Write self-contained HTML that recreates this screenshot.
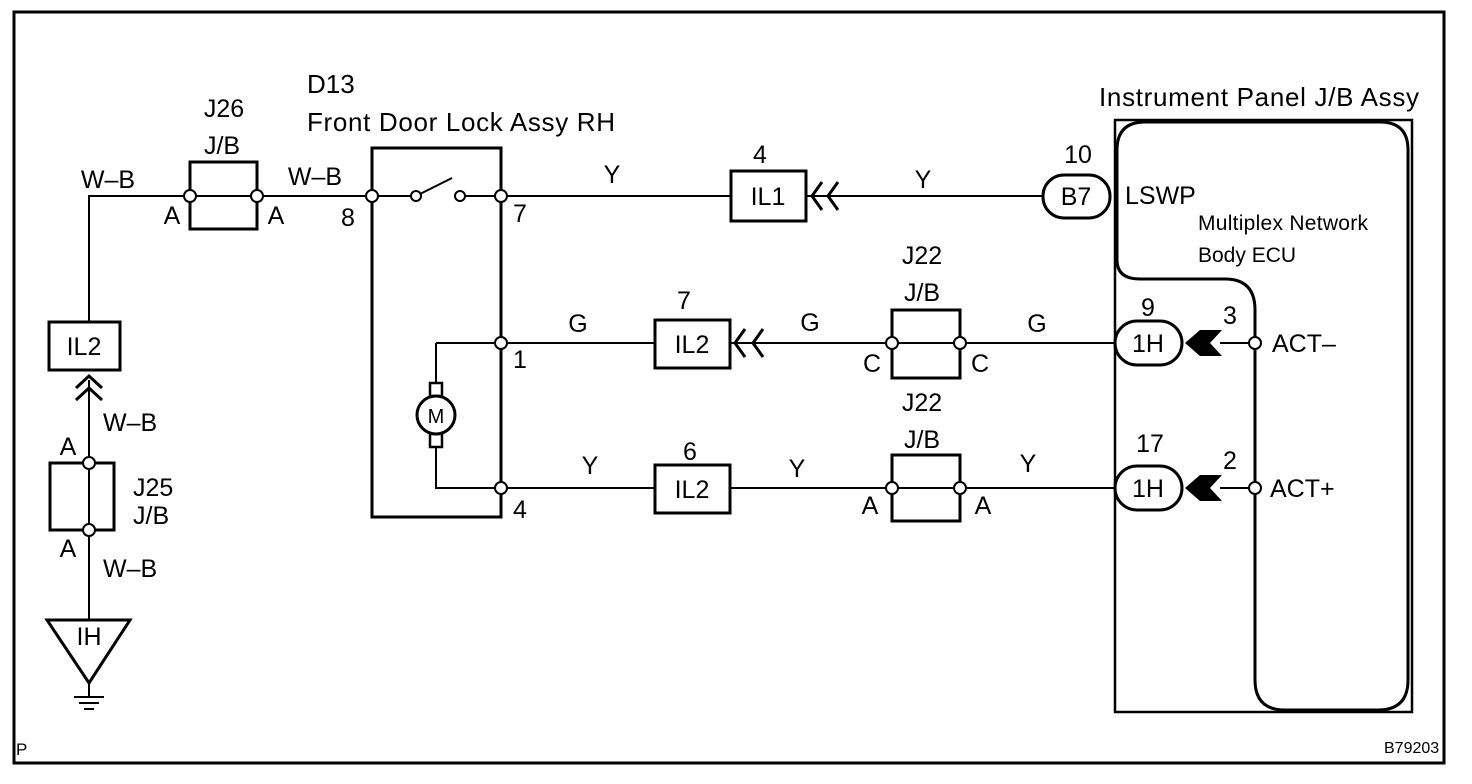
<!DOCTYPE html>
<html><head><meta charset="utf-8"><style>
html,body{margin:0;padding:0;background:#fff}
svg{display:block}
text{font-family:"Liberation Sans",Arial,sans-serif;font-size:25px;fill:#000}
</style></head><body>
<svg width="1472" height="784" viewBox="0 0 1472 784" xmlns="http://www.w3.org/2000/svg">
<rect x="14" y="12" width="1430" height="751" fill="none" stroke="#000" stroke-width="3"/>
<g fill="none" stroke="#000" stroke-width="2">
<polyline points="190,196 89,196 89,322"/>
<line x1="89" y1="380" x2="89" y2="620"/>
<line x1="257" y1="196" x2="372" y2="196"/>
<line x1="190" y1="196" x2="257" y2="196"/>
<line x1="372" y1="196" x2="412" y2="196"/>
<line x1="420" y1="194" x2="452" y2="178"/>
<line x1="464" y1="196" x2="501" y2="196"/>
<line x1="501" y1="196" x2="731" y2="196"/>
<line x1="806" y1="196" x2="1043" y2="196"/>
<line x1="436" y1="343" x2="655" y2="343"/>
<polyline points="436,383 436,343"/>
<line x1="730" y1="343" x2="1115" y2="343"/>
<line x1="1220" y1="343" x2="1255" y2="343"/>
<polyline points="436,447 436,488 655,488"/>
<line x1="730" y1="488" x2="1115" y2="488"/>
<line x1="1220" y1="488" x2="1255" y2="488"/>
<line x1="89" y1="683" x2="89" y2="697"/>
<line x1="74" y1="697" x2="104" y2="697"/>
<line x1="79" y1="703" x2="99" y2="703"/>
<line x1="84" y1="709" x2="94" y2="709"/>
</g>
<g fill="none" stroke="#000" stroke-width="3">
<rect x="190" y="162" width="67" height="67"/>
<rect x="372" y="148" width="129" height="369"/>
<rect x="49" y="322" width="71" height="48"/>
<rect x="50" y="463" width="64" height="67"/>
<rect x="731" y="171" width="75" height="50"/>
<rect x="655" y="320" width="75" height="48"/>
<rect x="655" y="465" width="75" height="48"/>
<rect x="892" y="310" width="68" height="68"/>
<rect x="892" y="455" width="68" height="66"/>
<polygon points="47,620 130,620 89,683"/>
<rect x="1115" y="120" width="297" height="592" stroke-width="2.5"/>
<path d="M1117,260 L1117,150 Q1117,122 1145,122 L1380,122 Q1408,122 1408,150 L1408,680 Q1408,710 1378,710 L1285,710 Q1255,710 1255,680 L1255,310 Q1255,279 1225,279 L1140,279 Q1117,279 1117,260"/>
<rect x="1043" y="175" width="67" height="43" rx="21"/>
<rect x="1115" y="321" width="67" height="44" rx="22"/>
<rect x="1115" y="466" width="67" height="44" rx="22"/>
<circle cx="436" cy="415" r="19"/>
<rect x="430" y="383" width="12" height="13" stroke-width="2.5"/>
<rect x="430" y="434" width="12" height="13" stroke-width="2.5"/>
<polyline points="822,182 812,196 822,210"/>
<polyline points="838,182 828,196 838,210"/>
<polyline points="745,329 735,343 745,357"/>
<polyline points="763,329 753,343 763,357"/>
<polyline points="76,388 89,376 102,388"/>
<polyline points="76,400 89,388 102,400"/>
</g>
<g fill="#000">
<polygon points="1185,343 1200,330 1222,330 1210,343 1222,356 1200,356"/>
<polygon points="1185,488 1200,475 1222,475 1210,488 1222,501 1200,501"/>
</g>
<g fill="#fff" stroke="#000" stroke-width="2">
<circle cx="190" cy="196" r="6"/><circle cx="257" cy="196" r="6"/>
<circle cx="372" cy="196" r="6"/><circle cx="416" cy="196" r="5"/><circle cx="460" cy="196" r="5"/>
<circle cx="501" cy="196" r="6"/><circle cx="501" cy="343" r="6"/><circle cx="501" cy="488" r="6"/>
<circle cx="892" cy="343" r="6"/><circle cx="960" cy="343" r="6"/>
<circle cx="892" cy="488" r="6"/><circle cx="960" cy="488" r="6"/>
<circle cx="89" cy="463" r="6"/><circle cx="89" cy="530" r="6"/>
<circle cx="1255" cy="343" r="6"/><circle cx="1255" cy="488" r="6"/>
</g>
<g text-anchor="middle">
<text x="224" y="117">J26</text><text x="222" y="154">J/B</text>
<text x="108" y="188">W–B</text><text x="315" y="185">W–B</text>
<text x="172" y="224">A</text><text x="276" y="224">A</text>
<text x="348" y="226">8</text><text x="520" y="222">7</text>
<text x="520" y="368">1</text><text x="520" y="518">4</text>
<text x="84" y="355">IL2</text>
<text x="768" y="205">IL1</text><text x="760" y="163">4</text>
<text x="612" y="183">Y</text><text x="923" y="188">Y</text>
<text x="1076" y="205">B7</text><text x="1078" y="163">10</text>
<text x="692" y="353">IL2</text><text x="684" y="309">7</text>
<text x="578" y="332">G</text><text x="810" y="331">G</text><text x="1037" y="332">G</text>
<text x="922" y="264">J22</text><text x="922" y="301">J/B</text>
<text x="872" y="372">C</text><text x="980" y="372">C</text>
<text x="692" y="498">IL2</text><text x="690" y="460">6</text>
<text x="590" y="474">Y</text><text x="797" y="477">Y</text><text x="1028" y="472">Y</text>
<text x="922" y="411">J22</text><text x="922" y="448">J/B</text>
<text x="870" y="514">A</text><text x="983" y="514">A</text>
<text x="1148" y="352">1H</text><text x="1148" y="497">1H</text>
<text x="1148" y="316">9</text><text x="1150" y="452">17</text>
<text x="1230" y="324">3</text><text x="1230" y="469">2</text>
<text x="89" y="645">IH</text>
<text x="436" y="423" style="font-size:20px">M</text>
<text x="68" y="455">A</text><text x="68" y="557">A</text>
</g>
<text x="307" y="93" style="font-size:26px">D13</text>
<text x="307" y="131" style="font-size:26px" textLength="308">Front Door Lock Assy RH</text>
<text x="1099" y="106" style="font-size:26px" textLength="320">Instrument Panel J/B Assy</text>
<text x="1125" y="204">LSWP</text>
<text x="1198" y="230" style="font-size:21px" textLength="170">Multiplex Network</text>
<text x="1198" y="262" style="font-size:21px">Body ECU</text>
<text x="1272" y="352">ACT–</text><text x="1270" y="497">ACT+</text>
<text x="103" y="431">W–B</text>
<text x="133" y="496">J25</text><text x="133" y="524">J/B</text>
<text x="103" y="577">W–B</text>
<text x="16" y="755" style="font-size:17px">P</text>
<text x="1384" y="753" style="font-size:16px">B79203</text>
</svg>
</body></html>
